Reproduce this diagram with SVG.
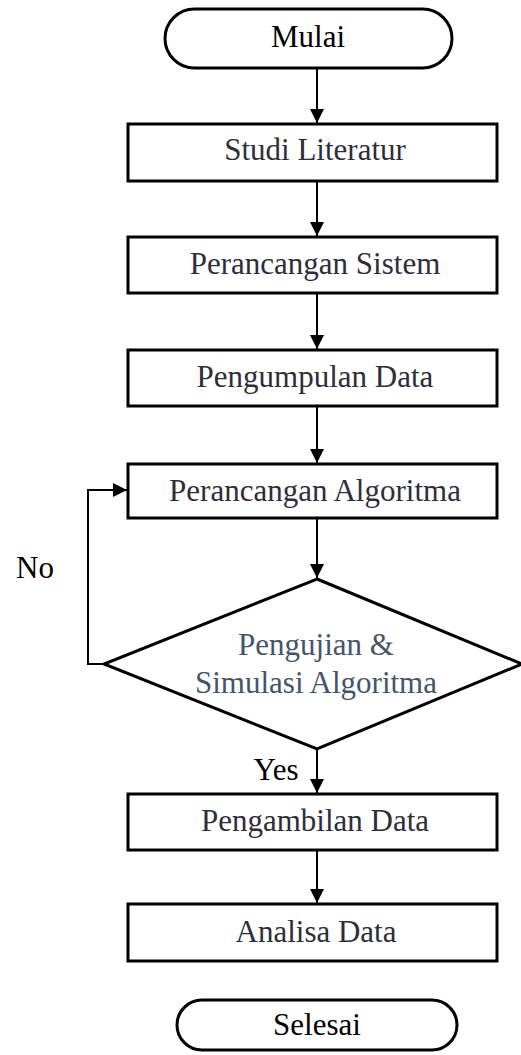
<svg xmlns="http://www.w3.org/2000/svg" width="521" height="1055" viewBox="0 0 521 1055">
<style>
.box{fill:#fff;stroke:#000;stroke-width:3}
.c{fill:none;stroke:#000;stroke-width:2}
text{font-family:'Liberation Serif','Times New Roman','DejaVu Serif',serif;font-size:31px;text-anchor:middle}
.k{fill:#000}
.g{fill:#2e2e3a}
.d{fill:#44546a}
</style>
<defs>
<marker id="a" viewBox="0 0 14 14" refX="14" refY="7" markerWidth="14" markerHeight="14" markerUnits="userSpaceOnUse" orient="auto">
<path d="M0,0 L14,7 L0,14 Z" fill="#000"/>
</marker>
</defs>
<rect width="521" height="1055" fill="#fff"/>
<g id="connectors">
<line class="c" x1="317" y1="68" x2="317" y2="123" marker-end="url(#a)"/>
<line class="c" x1="317" y1="181" x2="317" y2="236" marker-end="url(#a)"/>
<line class="c" x1="317" y1="293" x2="317" y2="349" marker-end="url(#a)"/>
<line class="c" x1="317" y1="406" x2="317" y2="463" marker-end="url(#a)"/>
<line class="c" x1="317" y1="518" x2="317" y2="578" marker-end="url(#a)"/>
<line class="c" x1="317" y1="749" x2="317" y2="793" marker-end="url(#a)"/>
<line class="c" x1="317" y1="850" x2="317" y2="903" marker-end="url(#a)"/>
<polyline class="c" points="104,664 88,664 88,490 127,490" marker-end="url(#a)"/>
<text class="k" x="35" y="578">No</text>
<text class="k" x="276" y="780">Yes</text>
</g>
<g id="mulai"><rect class="box" x="165" y="9" width="287" height="59" rx="29.5"/><text class="k" x="308" y="47">Mulai</text></g>
<g id="studi"><rect class="box" x="128" y="124" width="369" height="57"/><text class="g" x="315" y="160">Studi Literatur</text></g>
<g id="sistem"><rect class="box" x="128" y="237" width="369" height="56"/><text class="g" x="315" y="274">Perancangan Sistem</text></g>
<g id="pengumpulan"><rect class="box" x="128" y="350" width="369" height="56"/><text class="g" x="315" y="387">Pengumpulan Data</text></g>
<g id="algoritma"><rect class="box" x="128" y="464" width="369" height="54"/><text class="g" x="315" y="501">Perancangan Algoritma</text></g>
<g id="pengujian"><polygon class="box" points="317,579 522,664 317,749 104,664"/><text class="d" x="316" y="655">Pengujian &amp;</text><text class="d" x="316" y="693">Simulasi Algoritma</text></g>
<g id="pengambilan"><rect class="box" x="128" y="794" width="369" height="56"/><text class="g" x="315" y="831">Pengambilan Data</text></g>
<g id="analisa"><rect class="box" x="128" y="904" width="369" height="57"/><text class="g" x="316" y="942">Analisa Data</text></g>
<g id="selesai"><rect class="box" x="177" y="1000" width="280" height="50" rx="25"/><text class="k" x="317" y="1035">Selesai</text></g>
</svg>
